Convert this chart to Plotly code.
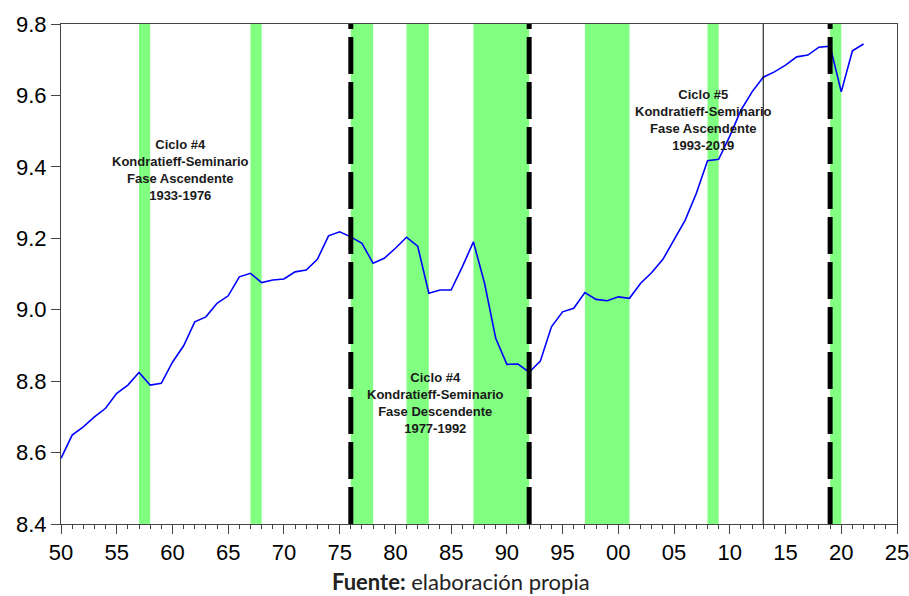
import plotly.graph_objects as go

years = list(range(1950, 2023))
values = [8.584, 8.649, 8.672, 8.700, 8.724, 8.766, 8.789, 8.824, 8.789, 8.794,
          8.853, 8.899, 8.966, 8.980, 9.018, 9.039, 9.092, 9.102, 9.076, 9.083,
          9.086, 9.106, 9.111, 9.141, 9.207, 9.218, 9.204, 9.186, 9.130, 9.144,
          9.172, 9.203, 9.178, 9.046, 9.055, 9.055, 9.120, 9.190, 9.074, 8.920,
          8.847, 8.848, 8.825, 8.856, 8.952, 8.994, 9.004, 9.048, 9.029, 9.025,
          9.036, 9.032, 9.074, 9.104, 9.141, 9.195, 9.251, 9.326, 9.417, 9.421,
          9.486, 9.559, 9.610, 9.651, 9.666, 9.685, 9.708, 9.713, 9.735, 9.738,
          9.610, 9.725, 9.744]

band_starts = [1957, 1967, 1976, 1981, 1987, 1997, 2008, 2019]
band_ends = [1958, 1968, 1978, 1983, 1992, 2001, 2009, 2020]
dashed_years = [1976, 1992, 2019]
solid_years = [2013]

tick_years = list(range(1950, 2026, 5))
tick_labels = ["50", "55", "60", "65", "70", "75", "80", "85", "90", "95",
               "00", "05", "10", "15", "20", "25"]
y_ticks = [8.4, 8.6, 8.8, 9.0, 9.2, 9.4, 9.6, 9.8]

notes = [
    ("Ciclo #4<br>Kondratieff-Seminario<br>Fase Ascendente<br>1933-1976", 1960.7, 9.39),
    ("Ciclo #4<br>Kondratieff-Seminario<br>Fase Descendente<br>1977-1992", 1983.6, 8.74),
    ("Ciclo #5<br>Kondratieff-Seminario<br>Fase Ascendente<br>1993-2019", 2007.6, 9.53),
]

fig = go.Figure()

shapes = []
for s, e in zip(band_starts, band_ends):
    shapes.append(dict(type="rect", xref="x", yref="paper", x0=s, x1=e, y0=0, y1=1,
                       fillcolor="#80ff80", line=dict(width=0), layer="below"))
for yr in solid_years:
    shapes.append(dict(type="line", xref="x", yref="paper", x0=yr, x1=yr, y0=0, y1=1,
                       line=dict(color="black", width=1), layer="above"))
for yr in dashed_years:
    shapes.append(dict(type="line", xref="x", yref="paper", x0=yr, x1=yr, y0=0, y1=1,
                       line=dict(color="black", width=5, dash="37px,8px"), layer="above"))

fig.add_trace(go.Scatter(x=years, y=values, mode="lines",
                         line=dict(color="#0000ff", width=1.6), showlegend=False))

annotations = []
for txt, x, y in notes:
    annotations.append(dict(text="<b>" + txt + "</b>", x=x, y=y, xref="x", yref="y",
                            showarrow=False, align="center",
                            font=dict(family="Liberation Sans, Arial", size=13, color="#1a1a1a")))
annotations.append(dict(text="<b>Fuente:</b> elaboración propia", x=0.478, y=-0.115,
                        xref="paper", yref="paper", xanchor="center", yanchor="middle",
                        showarrow=False,
                        font=dict(family="Lato, Open Sans", size=22, color="#222222")))

tick_font = dict(family="Liberation Sans, Arial", size=22, color="black")

fig.update_layout(
    width=909, height=596,
    margin=dict(l=61, r=12, t=24, b=72, autoexpand=False),
    paper_bgcolor="white", plot_bgcolor="white",
    shapes=shapes, annotations=annotations,
    xaxis=dict(range=[1950, 2025], tickvals=tick_years, ticktext=tick_labels,
               ticklabeloverflow="allow", automargin=False,
               ticks="outside", ticklen=9, tickcolor="#444", showgrid=False, zeroline=False,
               showline=True, linecolor="#444", linewidth=1, mirror=True,
               minor=dict(dtick=1, ticks="outside", ticklen=4, tickcolor="#444"),
               tickfont=tick_font),
    yaxis=dict(range=[8.4, 9.8], tickvals=y_ticks, ticktext=[f"{v:.1f}" for v in y_ticks],
               automargin=False,
               ticks="outside", ticklen=9, tickcolor="#444", showgrid=False, zeroline=False,
               showline=True, linecolor="#444", linewidth=1, mirror=True,
               tickfont=tick_font),
)

fig.write_html("out.html", config={"displayModeBar": False},
               post_script="document.body.style.margin='0';document.body.style.overflow='hidden';")
